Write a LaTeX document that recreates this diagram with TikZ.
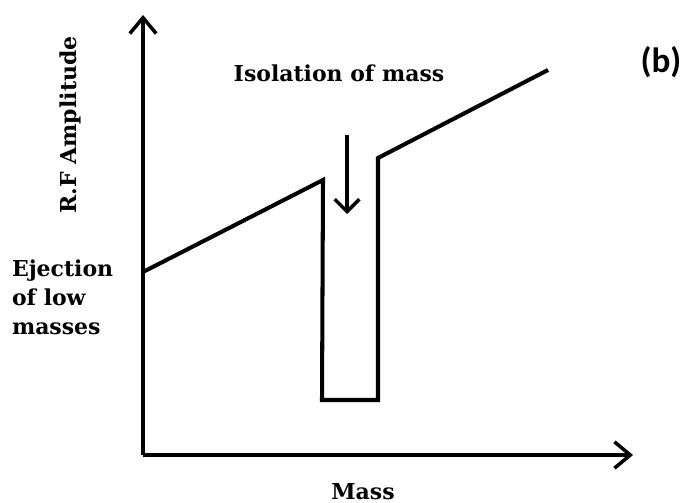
\documentclass[tikz,border=0pt]{standalone}
\usepackage{fontspec}
\setmainfont{DejaVu Serif}
\newfontfamily\tagfont{Carlito}
\usetikzlibrary{arrows.meta,positioning,calc}
\tikzset{
  every picture/.style={line width=2.3pt},
  sAxis/.style={-{Straight Barb[length=9pt,width=15pt,line width=2pt]}},
  sTrace/.style={line join=miter},
  sMark/.style={-{Straight Barb[length=7pt,width=14pt,line width=2pt]}},
  sLabel/.style={font=\bfseries\fontsize{12.5}{16.5}\selectfont, inner sep=0pt},
  sTag/.style={font=\tagfont\bfseries\fontsize{20}{24}\selectfont, inner sep=0pt},
}
\begin{document}
\begin{tikzpicture}[x=0.02cm,y=-0.02cm]
\useasboundingbox (0,0) rectangle (686,503);
\coordinate (o) at (143,455);
\coordinate (ytop) at (143,15);
\coordinate (xend) at (633,455);
\draw[sAxis] (o) -- (ytop);
\draw[sAxis] (o) -- (xend);
% scan line with the isolation notch
\coordinate (s0) at (143,272);
\coordinate (s1) at (323,180);
\coordinate (s2) at (322,400);
\coordinate (s3) at (378,400);
\coordinate (s4) at (378,158);
\coordinate (s5) at (548,70);
\draw[sTrace] (s0) -- (s1) -- (s2) -- (s3) -- (s4) -- (s5);
\coordinate (m0) at (347,135);
\coordinate (m1) at (347,214);
\draw[sMark] (m0) -- (m1);
\node[sLabel] (iso) at (339,73) {Isolation of mass};
\node[sLabel,rotate=90] (ylab) at (70,125) {R.F Amplitude};
\node[sLabel] (xlab) at (363,492) {Mass};
\node[sLabel,anchor=north west,align=left] (eject) at (10,258) {Ejection\\of low\\masses};
\node[sTag] (tag) at (661,62) {(b)};
\end{tikzpicture}
\end{document}
